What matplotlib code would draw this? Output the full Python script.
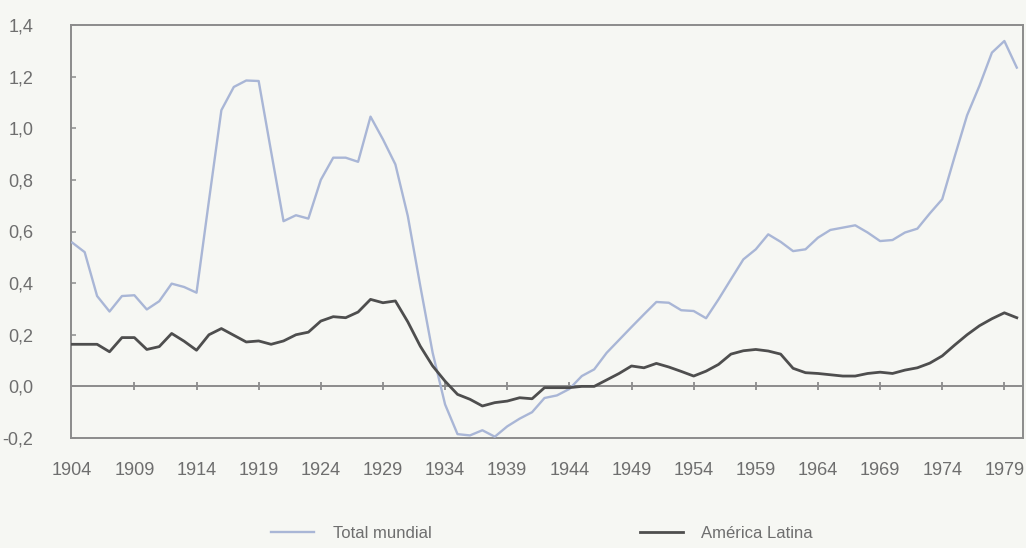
import numpy as np
import matplotlib
matplotlib.use("Agg")
import matplotlib.pyplot as plt
from matplotlib import font_manager

years = list(range(1904, 1981))

total_mundial = [
    0.557, 0.52, 0.35, 0.29, 0.35, 0.353, 0.298, 0.33, 0.398, 0.385,   # 1904-1913
    0.363, 0.72, 1.07, 1.16, 1.185, 1.183, 0.91, 0.64, 0.663, 0.65,    # 1914-1923
    0.80, 0.886, 0.886, 0.87, 1.045, 0.957, 0.86, 0.66, 0.39, 0.13,    # 1924-1933
    -0.07, -0.185, -0.19, -0.17, -0.195, -0.155, -0.125, -0.10, -0.045, -0.035,  # 1934-1943
    -0.01, 0.04, 0.066, 0.13, 0.18, 0.23, 0.279, 0.327, 0.324, 0.295,  # 1944-1953
    0.292, 0.264, 0.337, 0.415, 0.492, 0.531, 0.589, 0.56, 0.524, 0.531,  # 1954-1963
    0.576, 0.606, 0.615, 0.624, 0.596, 0.563, 0.567, 0.596, 0.611, 0.67,  # 1964-1973
    0.725, 0.89, 1.05, 1.165, 1.293, 1.338, 1.235,                      # 1974-1980
]

america_latina = [
    0.163, 0.163, 0.163, 0.134, 0.189, 0.189, 0.143, 0.154, 0.205, 0.175,  # 1904-1913
    0.14, 0.20, 0.224, 0.198, 0.172, 0.176, 0.163, 0.176, 0.20, 0.21,      # 1914-1923
    0.253, 0.27, 0.266, 0.288, 0.337, 0.324, 0.331, 0.25, 0.156, 0.079,    # 1924-1933
    0.02, -0.031, -0.05, -0.076, -0.063, -0.057, -0.044, -0.048, -0.005, -0.005,  # 1934-1943
    -0.005, 0.0, 0.0, 0.025, 0.05, 0.079, 0.072, 0.089, 0.075, 0.058,      # 1944-1953
    0.04, 0.059, 0.085, 0.125, 0.138, 0.143, 0.137, 0.125, 0.07, 0.053,    # 1954-1963
    0.05, 0.045, 0.04, 0.04, 0.05, 0.055, 0.05, 0.063, 0.072, 0.09,        # 1964-1973
    0.118, 0.16, 0.20, 0.235, 0.262, 0.285, 0.266,                         # 1974-1980
]

xtick_years = list(range(1904, 1980, 5))
ytick_values = [-0.2, 0.0, 0.2, 0.4, 0.6, 0.8, 1.0, 1.2, 1.4]
ytick_labels = ["-0,2", "0,0", "0,2", "0,4", "0,6", "0,8", "1,0", "1,2", "1,4"]
series_names = ["Total mundial", "América Latina"]

# font
avail = {f.name for f in font_manager.fontManager.ttflist}
fam = [f for f in ["Liberation Sans Narrow", "Liberation Sans", "DejaVu Sans"] if f in avail]
plt.rcParams["font.family"] = fam

bg = "#f6f7f3"
frame_c = "#8c8c8c"
text_c = "#6e6e6e"
c_total = "#a9b6d6"
c_la = "#4e4e4e"

fig = plt.figure(figsize=(10.26, 5.48), dpi=100, facecolor=bg)
ax = fig.add_axes([71 / 1026, 1 - 438 / 548, 952 / 1026, 413 / 548])
ax.set_facecolor(bg)

ax.set_xlim(1903.9, 1980.5)
ax.set_ylim(-0.2, 1.4)

ax.axhline(0, color=frame_c, lw=1.4, zorder=1)
ax.plot(xtick_years[1:], [0] * len(xtick_years[1:]), ls="none", marker="|",
        ms=6, mew=1.3, color=frame_c, zorder=1)

l1, = ax.plot(years, total_mundial, color=c_total, lw=1.7, zorder=3,
              label=series_names[0])
l2, = ax.plot(years, america_latina, color=c_la, lw=2.0, zorder=4,
              label=series_names[1])

for s in ax.spines.values():
    s.set_color(frame_c)
    s.set_linewidth(1.4)

ax.set_yticks(ytick_values)
ax.set_yticklabels(ytick_labels)
ax.set_xticks(xtick_years)
ax.set_xticklabels([str(y) for y in xtick_years])
ax.tick_params(axis="y", direction="in", length=3.5, width=1.1, color=frame_c,
               labelsize=13, labelcolor=text_c, pad=27)
ax.tick_params(axis="x", length=0, labelsize=13, labelcolor=text_c, pad=17)

fig.legend(handles=[l1, l2], labels=series_names, loc="center",
           bbox_to_anchor=(542 / 1026, 1 - 533 / 548), ncol=2, frameon=False,
           fontsize=12, handlelength=2.6, handletextpad=1.1, columnspacing=12.5,
           labelcolor=text_c)

fig.savefig("out.png", dpi=100, facecolor=bg)
